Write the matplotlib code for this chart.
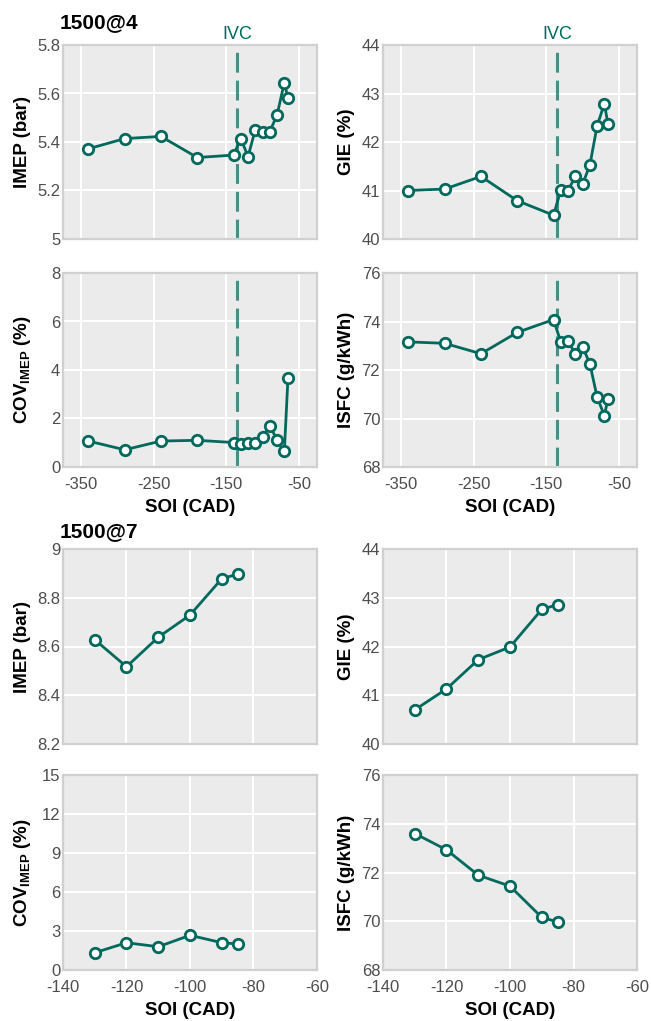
import matplotlib
matplotlib.use('Agg')
import matplotlib.pyplot as plt
from matplotlib.ticker import FuncFormatter, MultipleLocator

plt.rcParams['font.family'] = ['Liberation Sans', 'DejaVu Sans']
plt.rcParams['mathtext.fontset'] = 'custom'
plt.rcParams['mathtext.rm'] = 'Liberation Sans'
plt.rcParams['mathtext.bf'] = 'Liberation Sans:bold'
plt.rcParams['axes.unicode_minus'] = False

# 1500@4 sweep
soi_4 = [-340, -290, -240, -190, -140, -130, -120, -110, -100, -90, -80, -70, -65]
imep_4 = [5.372, 5.414, 5.423, 5.336, 5.346, 5.414, 5.340, 5.451, 5.443, 5.443, 5.512, 5.645, 5.580]
gie_4 = [41.00, 41.03, 41.29, 40.79, 40.49, 41.01, 41.00, 41.29, 41.13, 41.52, 42.33, 42.79, 42.37]
cov_4 = [1.07, 0.71, 1.07, 1.10, 1.01, 0.95, 0.99, 0.99, 1.23, 1.71, 1.11, 0.64, 3.67]
isfc_4 = [73.16, 73.10, 72.67, 73.55, 74.08, 73.15, 73.19, 72.66, 72.96, 72.26, 70.89, 70.12, 70.81]

# 1500@7 sweep
soi_7 = [-130, -120, -110, -100, -90, -85]
imep_7 = [8.628, 8.517, 8.638, 8.729, 8.878, 8.897]
gie_7 = [40.70, 41.13, 41.73, 41.99, 42.76, 42.86]
cov_7 = [1.33, 2.10, 1.79, 2.67, 2.10, 2.00]
isfc_7 = [73.60, 72.93, 71.89, 71.44, 70.16, 69.97]

ivc = -135

LINE = '#00695C'
W, H = 651.0, 1021.0


def make_ax(fig, left, top, right, bottom):
    ax = fig.add_axes([left / W, 1 - bottom / H, (right - left) / W, (bottom - top) / H])
    ax.set_facecolor('#EBEBEB')
    for s in ax.spines.values():
        s.set_color('#D0D0D0')
        s.set_linewidth(1.6)
    ax.grid(True, color='white', linewidth=1.5)
    ax.set_axisbelow(True)
    ax.tick_params(length=0, labelsize=12, colors='#4D4D4D')
    ax.tick_params(axis='x', pad=7)
    ax.tick_params(axis='y', pad=2)
    ax.yaxis.set_major_formatter(FuncFormatter(lambda v, p: '%g' % round(v, 3)))
    return ax


def draw(ax, x, y, ylim, ystep, ylabel, labx):
    ax.plot(x, y, color=LINE, linewidth=2.0, marker='o', markersize=7.5,
            markerfacecolor='white', markeredgecolor=LINE, markeredgewidth=2.0, zorder=3)
    ax.set_ylim(*ylim)
    ax.yaxis.set_major_locator(MultipleLocator(ystep))
    ax.set_ylabel(ylabel, fontsize=13.5, fontweight='bold')
    ax.yaxis.label.set_va('center')
    ax.yaxis.set_label_coords(labx, 0.5)


fig = plt.figure(figsize=(6.51, 10.21), dpi=100)

rows = [(45, 239), (273, 467), (549, 744), (775, 970)]
cols = [(63, 317), (383, 637)]
lab = [-0.161, -0.143]
cov_label = r'COV$_{\mathbf{IMEP}}$ (%)'

# top block: 1500@4
a1 = make_ax(fig, cols[0][0], rows[0][0], cols[0][1], rows[0][1])
a2 = make_ax(fig, cols[1][0], rows[0][0], cols[1][1], rows[0][1])
a3 = make_ax(fig, cols[0][0], rows[1][0], cols[0][1], rows[1][1])
a4 = make_ax(fig, cols[1][0], rows[1][0], cols[1][1], rows[1][1])
draw(a1, soi_4, imep_4, (5.0, 5.8), 0.2, 'IMEP (bar)', lab[0])
draw(a2, soi_4, gie_4, (40, 44), 1, 'GIE (%)', lab[1])
draw(a3, soi_4, cov_4, (0, 8), 2, cov_label, lab[0])
draw(a4, soi_4, isfc_4, (68, 76), 2, 'ISFC (g/kWh)', lab[1])
for ax in [a1, a2, a3, a4]:
    ax.set_xlim(-375, -25)
    ax.set_xticks([-350, -250, -150, -50])
    ax.axvline(ivc, color=LINE, alpha=0.7, linewidth=2.2, dashes=(6.5, 2.6), zorder=2)
for ax in [a1, a2]:
    ax.tick_params(axis='x', labelbottom=False)
    ax.text(ivc, 1.01, 'IVC', transform=ax.get_xaxis_transform(), ha='center', va='bottom',
            color=LINE, fontsize=13)
for ax in [a3, a4]:
    ax.set_xlabel('SOI (CAD)', fontsize=13.5, fontweight='bold', labelpad=5)

# bottom block: 1500@7
b1 = make_ax(fig, cols[0][0], rows[2][0], cols[0][1], rows[2][1])
b2 = make_ax(fig, cols[1][0], rows[2][0], cols[1][1], rows[2][1])
b3 = make_ax(fig, cols[0][0], rows[3][0], cols[0][1], rows[3][1])
b4 = make_ax(fig, cols[1][0], rows[3][0], cols[1][1], rows[3][1])
draw(b1, soi_7, imep_7, (8.2, 9.0), 0.2, 'IMEP (bar)', lab[0])
draw(b2, soi_7, gie_7, (40, 44), 1, 'GIE (%)', lab[1])
draw(b3, soi_7, cov_7, (0, 15), 3, cov_label, lab[0])
draw(b4, soi_7, isfc_7, (68, 76), 2, 'ISFC (g/kWh)', lab[1])
for ax in [b1, b2, b3, b4]:
    ax.set_xlim(-140, -60)
    ax.set_xticks([-140, -120, -100, -80, -60])
for ax in [b1, b2]:
    ax.tick_params(axis='x', labelbottom=False)
for ax in [b3, b4]:
    ax.set_xlabel('SOI (CAD)', fontsize=13.5, fontweight='bold', labelpad=5)

fig.text(60 / W, 1 - 28 / H, '1500@4', fontsize=15, fontweight='bold', va='baseline')
fig.text(60 / W, 1 - 537 / H, '1500@7', fontsize=15, fontweight='bold', va='baseline')

plt.savefig('out.png', dpi=100)
